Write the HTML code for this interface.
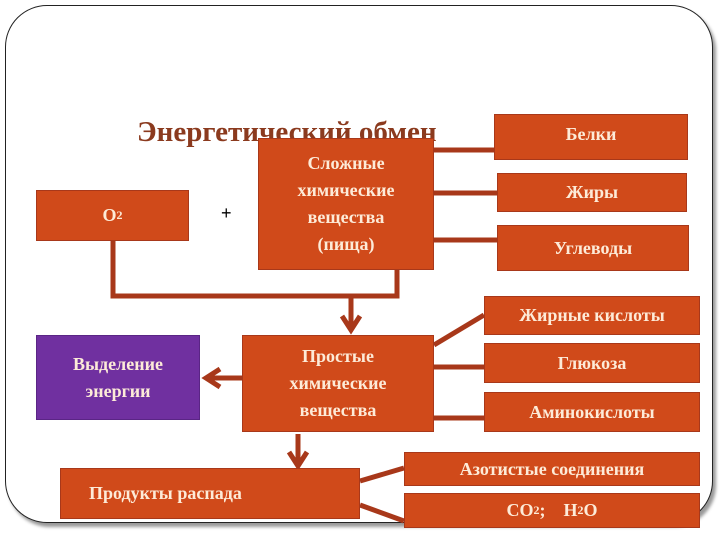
<!DOCTYPE html>
<html><head><meta charset="utf-8"><style>
body{margin:0;width:720px;height:540px;background:#fff;position:relative;overflow:hidden;font-family:"Liberation Serif",serif;}
.frame{position:absolute;left:5px;top:5px;width:706px;height:516px;border:1.5px solid #222;border-radius:42px;box-shadow:3px 4px 3px #999;background:#fff;}
.b{position:absolute;background:#D04A1A;border:1px solid #A8381A;color:#FDEBD8;font-weight:bold;font-size:18px;display:flex;align-items:center;justify-content:center;text-align:center;line-height:27px;box-sizing:border-box;}
.title{position:absolute;left:137px;top:116px;font-size:29px;font-weight:bold;color:#8B3A1E;white-space:nowrap;}
svg{position:absolute;left:0;top:0;}
</style></head><body>
<div class="frame"></div>
<div class="title">Энергетический обмен</div>
<svg width="720" height="540">
<g stroke="#A8381A" stroke-width="5" fill="none">
<line x1="434" y1="150" x2="497" y2="150"/>
<line x1="434" y1="193" x2="497" y2="193"/>
<line x1="434" y1="240" x2="497" y2="240"/>
<polyline points="113,241 113,296 397,296 397,270"/>
<line x1="351" y1="296" x2="351" y2="328"/>
<polyline points="342,316 351,330 360,316"/>
<line x1="242" y1="378" x2="210" y2="378"/>
<polyline points="220,369 206,378 220,387"/>
<line x1="434" y1="345" x2="484" y2="315"/>
<line x1="434" y1="367" x2="484" y2="367"/>
<line x1="434" y1="418" x2="484" y2="418"/>
<line x1="298" y1="434" x2="298" y2="463"/>
<polyline points="289,452 298,466 307,452"/>
<line x1="360" y1="481" x2="404" y2="468"/>
<line x1="360" y1="505" x2="404" y2="521"/>
</g>
</svg>
<div class="b" style="left:36px;top:190px;width:153px;height:51px;">O<span style="font-size:12px">2</span></div>
<div style="position:absolute;left:221px;top:203px;font-family:'Liberation Sans',sans-serif;font-size:18px;">+</div>
<div class="b" style="left:258px;top:138px;width:176px;height:132px;">Сложные<br>химические<br>вещества<br>(пища)</div>
<div class="b" style="left:494px;top:114px;width:194px;height:46px;align-items:flex-start;padding-top:6px;">Белки</div>
<div class="b" style="left:497px;top:173px;width:190px;height:39px;">Жиры</div>
<div class="b" style="left:497px;top:225px;width:192px;height:46px;">Углеводы</div>
<div class="b" style="left:36px;top:335px;width:164px;height:85px;background:#7030A0;border-color:#5a2585;">Выделение<br>энергии</div>
<div class="b" style="left:242px;top:335px;width:192px;height:97px;">Простые<br>химические<br>вещества</div>
<div class="b" style="left:484px;top:296px;width:216px;height:39px;">Жирные кислоты</div>
<div class="b" style="left:484px;top:343px;width:216px;height:40px;">Глюкоза</div>
<div class="b" style="left:484px;top:392px;width:216px;height:40px;">Аминокислоты</div>
<div class="b" style="left:60px;top:468px;width:300px;height:51px;justify-content:flex-start;padding-left:28px;">Продукты распада</div>
<div class="b" style="left:404px;top:452px;width:296px;height:34px;">Азотистые соединения</div>
<div class="b" style="left:404px;top:493px;width:296px;height:35px;">CO<span style="font-size:12px">2</span>;&nbsp;&nbsp;&nbsp; H<span style="font-size:12px">2</span>O</div>
</body></html>
